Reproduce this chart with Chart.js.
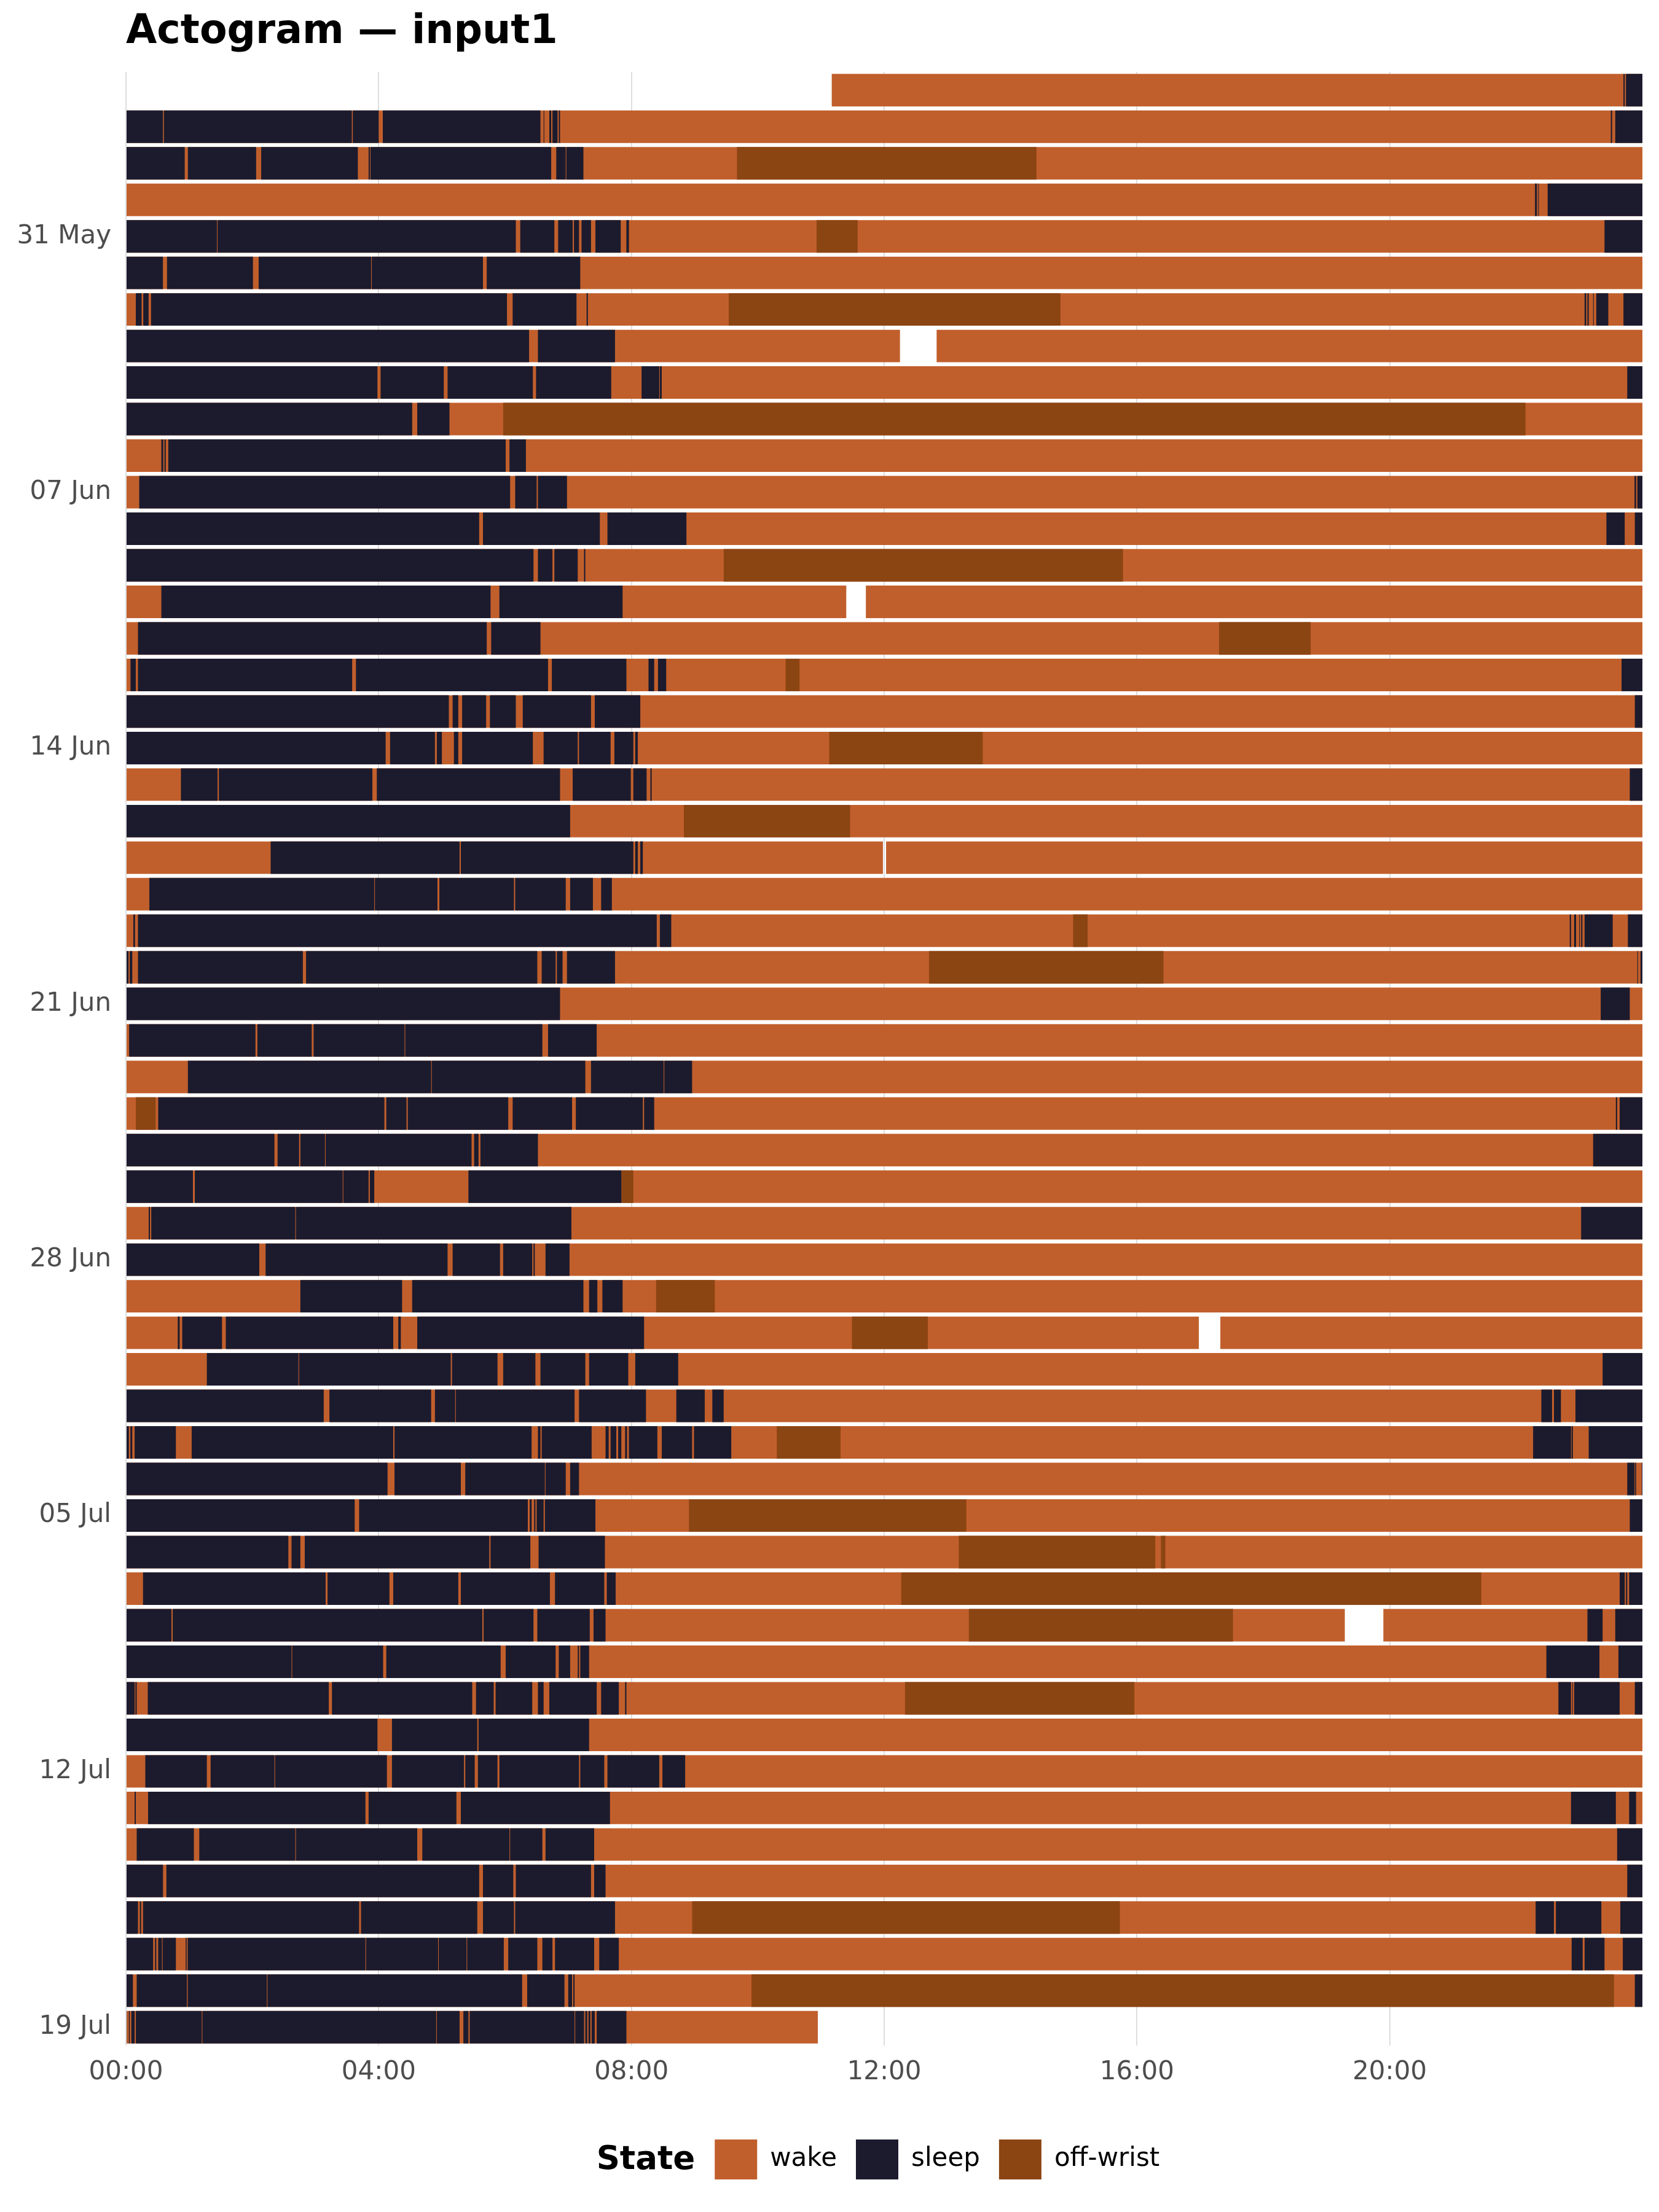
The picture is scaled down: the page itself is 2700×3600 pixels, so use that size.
<!DOCTYPE html>
<html>
<head>
<meta charset="utf-8">
<title>Actogram — input1</title>
<script src="https://cdn.jsdelivr.net/npm/chart.js@4.4.1/dist/chart.umd.min.js"></script>
<style>
  html, body { margin: 0; padding: 0; background: #ffffff; }
  #wrap { width: 2700px; height: 3600px; }
</style>
</head>
<body>
<div id="wrap"><canvas id="chart" width="2700" height="3600"></canvas></div>
<script>
// one row per day, hours 0-24
const days = [
  '27 May', '28 May', '29 May', '30 May', '31 May',
  '01 Jun', '02 Jun', '03 Jun', '04 Jun', '05 Jun', '06 Jun', '07 Jun', '08 Jun', '09 Jun', '10 Jun',
  '11 Jun', '12 Jun', '13 Jun', '14 Jun', '15 Jun', '16 Jun', '17 Jun', '18 Jun', '19 Jun', '20 Jun',
  '21 Jun', '22 Jun', '23 Jun', '24 Jun', '25 Jun', '26 Jun', '27 Jun', '28 Jun', '29 Jun', '30 Jun',
  '01 Jul', '02 Jul', '03 Jul', '04 Jul', '05 Jul', '06 Jul', '07 Jul', '08 Jul', '09 Jul', '10 Jul',
  '11 Jul', '12 Jul', '13 Jul', '14 Jul', '15 Jul', '16 Jul', '17 Jul', '18 Jul', '19 Jul'
];
const dateTicks = ['31 May', '07 Jun', '14 Jun', '21 Jun', '28 Jun', '05 Jul', '12 Jul', '19 Jul'];
const hourTicks = ['00:00', '04:00', '08:00', '12:00', '16:00', '20:00'];

// recorded time (wake underneath sleep / off-wrist)
const wake = [
  [[11.17, 24]], [[0, 24]], [[0, 24]], [[0, 24]], [[0, 24]], [[0, 24]], [[0, 24]],
  [[0, 12.25], [12.83, 24]], [[0, 24]], [[0, 24]], [[0, 24]], [[0, 24]], [[0, 24]], [[0, 24]],
  [[0, 11.40], [11.71, 24]], [[0, 24]], [[0, 24]], [[0, 24]], [[0, 24]], [[0, 24]], [[0, 24]],
  [[0, 11.98], [12.03, 24]], [[0, 24]], [[0, 24]], [[0, 24]], [[0, 24]], [[0, 24]], [[0, 24]],
  [[0, 24]], [[0, 24]], [[0, 24]], [[0, 24]], [[0, 24]], [[0, 24]],
  [[0, 16.98], [17.32, 24]], [[0, 24]], [[0, 24]], [[0, 24]], [[0, 24]], [[0, 24]], [[0, 24]],
  [[0, 24]], [[0, 19.29], [19.90, 24]], [[0, 24]], [[0, 24]], [[0, 24]], [[0, 24]], [[0, 24]],
  [[0, 24]], [[0, 24]], [[0, 24]], [[0, 24]], [[0, 24]], [[0, 10.95]]
];

const sleep = [
  [[23.70, 23.72], [23.74, 24]],
  [[0, 0.585], [0.60, 3.575], [3.59, 4.0], [4.065, 6.56], [6.61, 6.62], [6.70, 6.73], [6.75, 6.83], [6.85, 6.87], [23.50, 23.52], [23.57, 24]],
  [[0, 0.93], [0.98, 2.06], [2.14, 3.67], [3.84, 3.86], [3.87, 6.73], [6.81, 6.96], [6.97, 7.24]],
  [[22.30, 22.33], [22.35, 22.36], [22.50, 24]],
  [[0, 1.44], [1.45, 6.17], [6.24, 6.78], [6.84, 7.07], [7.09, 7.17], [7.21, 7.36], [7.43, 7.83], [7.92, 7.96], [23.40, 24]],
  [[0, 0.585], [0.65, 2.01], [2.10, 3.88], [3.89, 5.65], [5.71, 7.19]],
  [[0.156, 0.248], [0.274, 0.358], [0.397, 6.03], [6.12, 7.13], [7.29, 7.31], [23.085, 23.11], [23.13, 23.15], [23.22, 23.23], [23.27, 23.46], [23.70, 24]],
  [[0, 6.38], [6.52, 7.74]],
  [[0, 3.98], [4.03, 5.03], [5.09, 6.44], [6.49, 7.68], [8.16, 8.44], [8.45, 8.48], [23.76, 24]],
  [[0, 4.53], [4.61, 5.12]],
  [[0.56, 0.59], [0.61, 0.63], [0.67, 6.01], [6.07, 6.33]],
  [[0.21, 6.08], [6.16, 6.50], [6.52, 6.98], [23.875, 23.90], [23.92, 24]],
  [[0, 5.59], [5.65, 7.50], [7.62, 8.87], [23.43, 23.72], [23.88, 24]],
  [[0, 6.45], [6.52, 6.75], [6.78, 7.15], [7.25, 7.27]],
  [[0.56, 5.77], [5.91, 7.86]],
  [[0.19, 5.71], [5.78, 6.56]],
  [[0.072, 0.156], [0.19, 3.58], [3.64, 6.68], [6.74, 7.92], [8.27, 8.36], [8.42, 8.55], [23.67, 24]],
  [[0, 5.11], [5.17, 5.26], [5.32, 5.70], [5.76, 6.17], [6.28, 7.36], [7.42, 8.14], [23.88, 24]],
  [[0, 4.11], [4.18, 4.89], [4.92, 5.00], [5.19, 5.26], [5.32, 6.44], [6.61, 7.15], [7.17, 7.67], [7.73, 8.03], [8.06, 8.10]],
  [[0.87, 1.45], [1.47, 3.90], [3.97, 6.87], [7.07, 7.99], [8.03, 8.24], [8.30, 8.32], [23.80, 24]],
  [[0, 7.03]],
  [[2.29, 5.28], [5.30, 8.03], [8.06, 8.10], [8.14, 8.18]],
  [[0.37, 3.93], [3.94, 4.93], [4.96, 6.14], [6.16, 6.96], [7.03, 7.39], [7.52, 7.69]],
  [[0.117, 0.143], [0.19, 8.40], [8.45, 8.63], [22.85, 22.87], [22.92, 22.95], [23.00, 23.01], [23.03, 23.05], [23.085, 23.53], [23.77, 24]],
  [[0.01, 0.04], [0.06, 0.10], [0.19, 2.80], [2.85, 6.51], [6.58, 6.80], [6.82, 6.91], [6.98, 7.74], [23.92, 23.93], [23.97, 24]],
  [[0, 6.87], [23.34, 23.80]],
  [[0.05, 2.05], [2.08, 2.94], [2.97, 4.41], [4.42, 6.59], [6.68, 7.45]],
  [[0.98, 4.83], [4.84, 7.27], [7.36, 8.51], [8.52, 8.96]],
  [[0.51, 4.09], [4.12, 4.44], [4.46, 6.05], [6.12, 7.06], [7.12, 8.18], [8.20, 8.36], [23.58, 23.60], [23.64, 24]],
  [[0, 2.35], [2.40, 2.74], [2.76, 3.15], [3.16, 5.47], [5.51, 5.58], [5.61, 6.52], [23.22, 24]],
  [[0, 1.06], [1.09, 3.43], [3.44, 3.84], [3.86, 3.93], [5.42, 7.84]],
  [[0.36, 0.38], [0.40, 2.68], [2.69, 7.05], [23.03, 24]],
  [[0, 2.11], [2.21, 5.09], [5.17, 5.92], [5.97, 6.43], [6.45, 6.47], [6.64, 7.02]],
  [[2.76, 4.37], [4.53, 7.24], [7.33, 7.46], [7.54, 7.86]],
  [[0.82, 0.85], [0.89, 1.52], [1.58, 4.23], [4.31, 4.35], [4.61, 8.20]],
  [[1.28, 2.73], [2.74, 5.14], [5.16, 5.88], [5.97, 6.48], [6.56, 7.27], [7.33, 7.95], [8.06, 8.74], [23.37, 24]],
  [[0, 3.13], [3.22, 4.83], [4.89, 5.21], [5.22, 7.10], [7.17, 8.23], [8.71, 9.16], [9.28, 9.46], [22.40, 22.57], [22.60, 22.71], [22.94, 24]],
  [[0, 0.046], [0.07, 0.10], [0.137, 0.79], [1.04, 4.23], [4.25, 6.42], [6.52, 6.56], [6.58, 7.37], [7.59, 7.64], [7.67, 7.76], [7.79, 7.84], [7.90, 7.93], [7.96, 8.41], [8.48, 8.96], [8.99, 9.58], [22.27, 22.87], [22.88, 22.90], [23.15, 24]],
  [[0, 4.14], [4.25, 5.30], [5.37, 6.63], [6.64, 6.96], [7.03, 7.17], [23.76, 23.875], [23.885, 23.90], [23.99, 24]],
  [[0, 3.62], [3.69, 6.36], [6.39, 6.42], [6.46, 6.48], [6.50, 6.61], [6.63, 7.43], [23.80, 24]],
  [[0, 2.57], [2.62, 2.76], [2.83, 5.75], [5.77, 6.40], [6.53, 7.58]],
  [[0.27, 3.16], [3.19, 4.17], [4.23, 5.26], [5.30, 6.71], [6.79, 7.57], [7.61, 7.75], [23.64, 23.72], [23.74, 23.76], [23.79, 24]],
  [[0, 0.72], [0.74, 5.64], [5.66, 6.45], [6.51, 7.34], [7.40, 7.59], [23.13, 23.37], [23.57, 24]],
  [[0, 2.62], [2.63, 4.07], [4.12, 5.93], [6.01, 6.80], [6.85, 7.03], [7.15, 7.17], [7.19, 7.33], [22.48, 23.32], [23.62, 24]],
  [[0, 0.137], [0.15, 0.17], [0.345, 3.21], [3.26, 5.48], [5.54, 5.82], [5.85, 6.43], [6.52, 6.61], [6.70, 7.45], [7.52, 7.80], [7.90, 7.92], [22.67, 22.87], [22.89, 22.90], [22.92, 23.64], [23.88, 24]],
  [[0, 3.98], [4.21, 5.56], [5.58, 7.33]],
  [[0.306, 1.28], [1.34, 2.35], [2.36, 4.13], [4.21, 5.35], [5.37, 5.52], [5.57, 5.88], [5.91, 7.17], [7.19, 7.57], [7.62, 8.44], [8.49, 8.85]],
  [[0.137, 0.156], [0.35, 3.79], [3.84, 5.23], [5.30, 7.66], [22.87, 23.58], [23.79, 23.90]],
  [[0.17, 1.075], [1.16, 2.68], [2.69, 4.61], [4.69, 6.07], [6.08, 6.59], [6.64, 7.41], [23.60, 24]],
  [[0, 0.586], [0.64, 5.59], [5.65, 6.13], [6.17, 7.36], [7.41, 7.59], [23.76, 24]],
  [[0, 0.19], [0.22, 0.24], [0.27, 3.69], [3.72, 5.56], [5.65, 6.14], [6.16, 7.74], [22.31, 22.60], [22.63, 23.35], [23.65, 24]],
  [[0, 0.43], [0.46, 0.48], [0.51, 0.57], [0.58, 0.79], [0.945, 0.96], [0.977, 3.79], [3.80, 4.94], [4.95, 5.39], [5.40, 5.98], [6.05, 6.51], [6.59, 6.75], [6.79, 7.41], [7.49, 7.80], [22.88, 23.055], [23.085, 23.40], [23.69, 24]],
  [[0, 0.11], [0.17, 0.964], [0.977, 2.23], [2.24, 6.27], [6.35, 6.94], [7.00, 7.06], [7.08, 7.10], [23.88, 24]],
  [[0, 0.013], [0.046, 0.06], [0.085, 0.137], [0.156, 1.20], [1.21, 4.91], [4.92, 5.28], [5.34, 5.42], [5.44, 7.10], [7.11, 7.25], [7.27, 7.30], [7.32, 7.35], [7.37, 7.42], [7.45, 7.92]]
];

const offWrist = [
  [], [], [[9.67, 14.41]], [], [[10.93, 11.58]], [], [[9.54, 14.79]], [], [],
  [[5.97, 22.15]], [], [], [], [[9.46, 15.78]], [], [[17.30, 18.75]], [[10.44, 10.66]], [],
  [[11.13, 13.56]], [], [[8.83, 11.46]], [], [], [[14.99, 15.22]], [[12.71, 16.42]], [], [],
  [], [[0.156, 0.47]], [], [[7.84, 8.03]], [], [], [[8.39, 9.32]], [[11.49, 12.69]], [],
  [], [[10.30, 11.31]], [], [[8.91, 13.30]], [[13.18, 16.29], [16.38, 16.45]], [[12.27, 21.45]], [[13.34, 17.52]], [], [[12.33, 15.96]],
  [], [], [], [], [], [[8.96, 15.73]], [], [[9.90, 23.55]], []
];

const colors = { wake: '#C15F2C', sleep: '#1C1B2E', off: '#8B4513' };
const fontFamily = '"DejaVu Sans", "Liberation Sans", sans-serif';

function toBars(rows) {
  const out = [];
  rows.forEach((segs, i) => {
    segs.forEach(seg => out.push({ y: days[i], x: seg }));
  });
  return out;
}

// bold "State" written in front of the legend items
const legendHeading = {
  id: 'legendHeading',
  afterLayout(chart) {
    const lg = chart.legend;
    if (!lg) return;
    const ctx = chart.ctx;
    ctx.save();
    ctx.font = 'bold 53px ' + fontFamily;
    const w = ctx.measureText('State').width;
    ctx.restore();
    const shift = (w + 32) / 2 - 10;
    lg.left += shift;
    lg.right += shift;
  },
  afterDraw(chart) {
    const lg = chart.legend;
    if (!lg || !lg.legendHitBoxes || !lg.legendHitBoxes.length) return;
    const box = lg.legendHitBoxes[0];
    const ctx = chart.ctx;
    ctx.save();
    ctx.font = 'bold 53px ' + fontFamily;
    ctx.fillStyle = '#000000';
    ctx.textAlign = 'right';
    ctx.textBaseline = 'middle';
    ctx.fillText('State', box.left - 32, box.top + box.height / 2 + 2);
    ctx.restore();
  }
};

const barCommon = {
  barPercentage: 0.89,
  categoryPercentage: 1,
  borderWidth: 0,
  grouped: false
};

new Chart(document.getElementById('chart'), {
  type: 'bar',
  data: {
    labels: days,
    datasets: [
      { label: 'wake', data: toBars(wake), backgroundColor: colors.wake, order: 3, ...barCommon },
      { label: 'sleep', data: toBars(sleep), backgroundColor: colors.sleep, order: 1, ...barCommon },
      { label: 'off-wrist', data: toBars(offWrist), backgroundColor: colors.off, order: 2, ...barCommon }
    ]
  },
  options: {
    indexAxis: 'y',
    responsive: false,
    devicePixelRatio: 1,
    animation: false,
    events: [],
    layout: { padding: { top: 0, right: 27, bottom: 43, left: 0 } },
    scales: {
      x: {
        type: 'linear',
        min: 0,
        max: 24,
        ticks: {
          stepSize: 4,
          padding: 19,
          maxRotation: 0,
          color: '#4D4D4D',
          font: { family: fontFamily, size: 42 },
          callback: value => hourTicks[value / 4]
        },
        afterBuildTicks: scale => {
          scale.ticks = scale.ticks.filter(t => t.value < 24);
        },
        afterFit: scale => {
          scale.height = 122;
        },
        grid: { color: '#DEDEDE', lineWidth: 2, drawTicks: false },
        border: { display: false }
      },
      y: {
        type: 'category',
        offset: true,
        ticks: {
          autoSkip: false,
          padding: 24,
          color: '#4D4D4D',
          font: { family: fontFamily, size: 42 },
          callback: (value, index) => (dateTicks.includes(days[index]) ? days[index] : '')
        },
        afterFit: scale => {
          scale.width = 205;
        },
        grid: { display: false, drawTicks: false },
        border: { display: false }
      }
    },
    plugins: {
      title: {
        display: true,
        text: 'Actogram — input1',
        align: 'start',
        fullSize: false,
        color: '#000000',
        font: { family: fontFamily, size: 65, weight: 'bold' },
        padding: { top: 14, bottom: 25 }
      },
      legend: {
        display: true,
        position: 'bottom',
        fullSize: false,
        labels: {
          boxWidth: 69,
          boxHeight: 65,
          padding: 31,
          color: '#000000',
          font: { family: fontFamily, size: 42 },
          sort: (a, b) => a.datasetIndex - b.datasetIndex
        }
      },
      tooltip: { enabled: false }
    }
  },
  plugins: [legendHeading]
});
</script>
</body>
</html>
